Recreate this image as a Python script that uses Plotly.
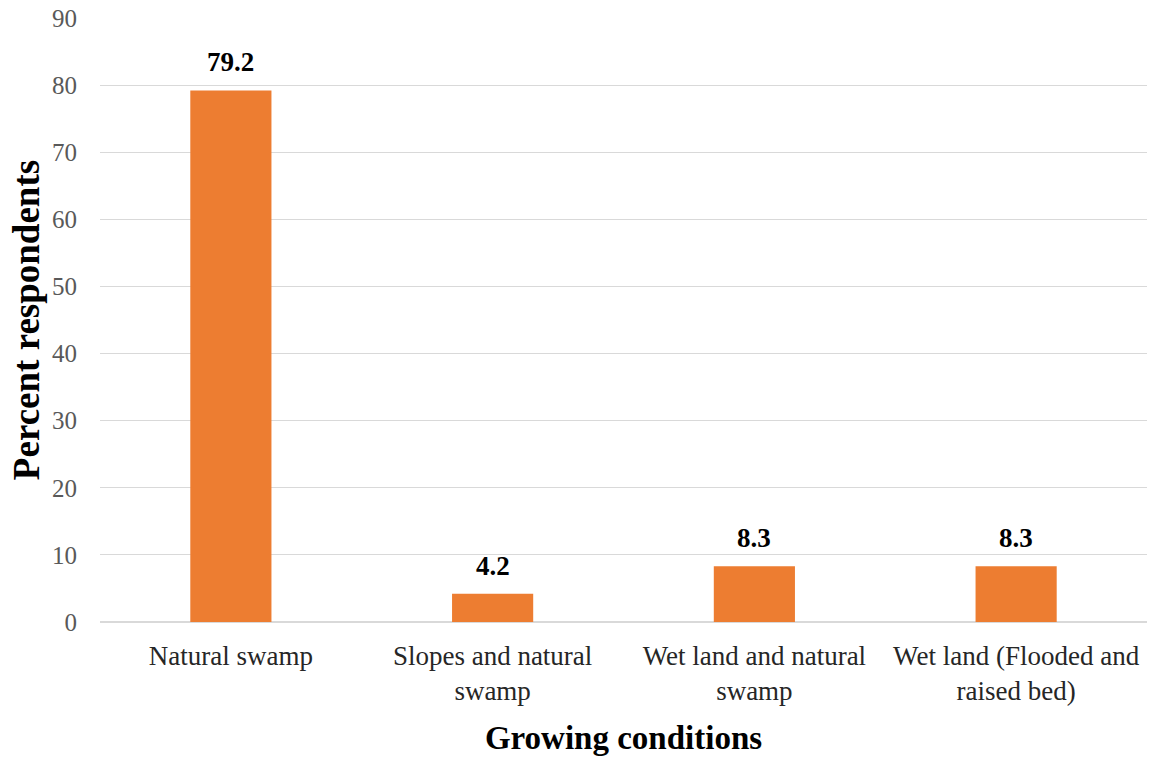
import plotly.graph_objects as go

categories = ["Natural swamp", "Slopes and natural<br>swamp", "Wet land and natural<br>swamp", "Wet land (Flooded and<br>raised bed)"]
percent = [79.2, 4.2, 8.3, 8.3]
y_ticks = [0, 10, 20, 30, 40, 50, 60, 70, 80, 90]

fig = go.Figure(
    go.Bar(
        x=categories,
        y=percent,
        marker=dict(color="#ED7D31", line=dict(width=0)),
        width=0.31,
        hoverinfo="x+y",
    )
)

# value labels above each bar
for cat, val in zip(categories, percent):
    fig.add_annotation(
        x=cat,
        y=val,
        text=f"<b>{val:.1f}</b>",
        showarrow=False,
        yanchor="bottom",
        yshift=11,
        font=dict(family="Liberation Serif", size=27, color="#000000"),
    )

fig.update_layout(
    width=1149,
    height=759,
    margin=dict(l=100, r=2, t=18, b=137),
    paper_bgcolor="white",
    plot_bgcolor="white",
    showlegend=False,
    font=dict(family="Liberation Serif"),
    xaxis=dict(
        tickfont=dict(size=27, color="#262626"),
        showgrid=False,
        showline=False,
        ticks="",
        ticklabelstandoff=15,
        title=dict(text="<b>Growing conditions</b>", font=dict(size=33, color="#000000"), standoff=20),
    ),
    yaxis=dict(
        range=[0, 90],
        tickvals=y_ticks,
        tickfont=dict(size=25, color="#595959"),
        gridcolor="#D9D9D9",
        gridwidth=1,
        zeroline=True,
        zerolinecolor="#D9D9D9",
        showline=False,
        ticks="",
        ticklabelstandoff=22,
        title=dict(text="<b>Percent respondents</b>", font=dict(size=37, color="#000000"), standoff=1),
    ),
)

fig.write_html("out.html")
